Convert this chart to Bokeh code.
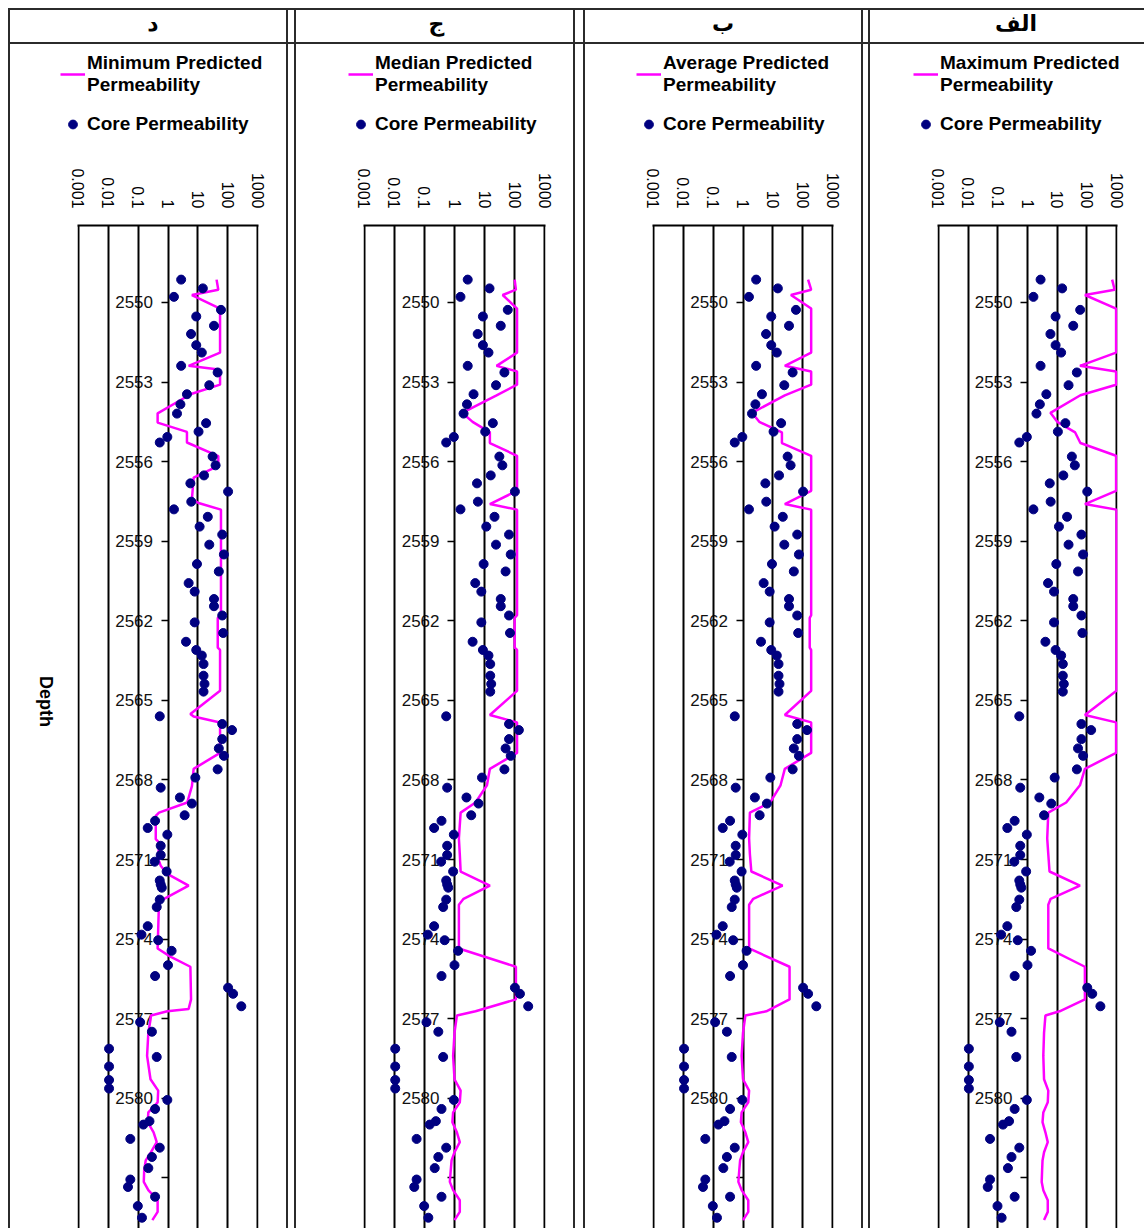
import math
from bokeh.plotting import figure
from bokeh.models import (Range1d, LinearAxis, FixedTicker, Legend, LegendItem, Div)
from bokeh.layouts import row, column
from bokeh.embed import file_html
from bokeh.resources import INLINE

# ---------------- data ----------------
PANEL_TITLES = ["د", "ج", "ب", "الف"]
SERIES_NAMES = ["Minimum Predicted\nPermeability", "Median Predicted\nPermeability",
                "Average Predicted\nPermeability", "Maximum Predicted\nPermeability"]
CORE_LABEL = "Core Permeability"
AXIS_TITLE = "Depth"
X_TICKS = [0.001, 0.01, 0.1, 1, 10, 100, 1000]
X_TICK_LABELS = ["0.001", "0.01", "0.1", "1", "10", "100", "1000"]
DEPTH_TICKS = [2550, 2553, 2556, 2559, 2562, 2565, 2568, 2571, 2574, 2577, 2580, 2583]
DEPTH_TICK_LABELS = ["2550", "2553", "2556", "2559", "2562", "2565", "2568", "2571",
                     "2574", "2577", "2580", ""]

CORE_DEPTH = [2549.14, 2549.47, 2549.79, 2550.28, 2550.53, 2550.88, 2551.19, 2551.61, 2551.89,
              2552.39, 2552.64, 2553.12, 2553.46, 2553.84, 2554.19, 2554.55, 2554.87, 2555.07,
              2555.28, 2555.81, 2556.14, 2556.52, 2556.82, 2557.13, 2557.51, 2557.80, 2558.08,
              2558.45, 2558.75, 2559.13, 2559.50, 2559.86, 2560.14, 2560.58, 2560.90, 2561.18,
              2561.45, 2561.80, 2562.06, 2562.46, 2562.79, 2563.10, 2563.31, 2563.63, 2564.07,
              2564.38, 2564.67, 2565.60, 2565.89, 2566.12, 2566.46, 2566.81, 2567.09, 2567.60,
              2567.91, 2568.29, 2568.66, 2568.89, 2569.33, 2569.54, 2569.81, 2570.06, 2570.48,
              2570.83, 2571.08, 2571.45, 2571.79, 2571.94, 2572.06, 2572.51, 2572.79, 2573.51,
              2573.83, 2574.04, 2574.44, 2574.98, 2575.39, 2575.83, 2576.06, 2576.53, 2577.13,
              2577.49, 2578.13, 2578.44, 2578.80, 2579.31, 2579.63, 2580.06, 2580.40, 2580.86,
              2580.99, 2581.53, 2581.86, 2582.21, 2582.63, 2583.06, 2583.34, 2583.71, 2584.06,
              2584.50]
CORE_PERM = [2.75, 14.6, 1.58, 59, 8.8, 34.5, 5.9, 8.8, 13.5,
             2.75, 45.6, 24, 4.3, 2.6, 2.0, 18.8, 10.5, 0.95,
             0.53, 31, 39, 16, 5.6, 102, 6.0, 1.58, 21.4,
             11.4, 65, 24, 74, 9.3, 50, 4.9, 7.8, 34.5,
             34.5, 65, 7.8, 70, 4.0, 8.8, 13.5, 15.4, 15.4,
             16.6, 15.4, 0.53, 65, 138, 65, 50, 74, 45.7,
             8.2, 0.57, 2.5, 6.3, 3.6, 0.37, 0.21, 0.95, 0.57,
             0.57, 0.36, 0.9, 0.53, 0.57, 0.62, 0.53, 0.42, 0.21,
             0.13, 0.47, 1.32, 1.0, 0.37, 102, 150, 282, 0.117,
             0.29, 0.0107, 0.42, 0.0107, 0.0107, 0.0107, 0.95, 0.37, 0.24,
             0.15, 0.055, 0.53, 0.29, 0.22, 0.055, 0.046, 0.37, 0.098,
             0.135]

MIN_DEPTH = [2549.14, 2549.52, 2549.72, 2550.23, 2551.89, 2552.39, 2552.52, 2552.70, 2553.10,
             2553.46, 2553.50, 2554.18, 2554.53, 2554.88, 2555.28, 2555.79, 2556.16, 2556.60,
             2557.41, 2557.56, 2557.81, 2561.79, 2561.89, 2563.01, 2563.10, 2564.64, 2565.51,
             2565.61, 2565.83, 2566.98, 2567.58, 2568.23, 2568.85, 2569.23, 2569.35, 2570.23,
             2570.35, 2570.79, 2570.91, 2571.23, 2571.54, 2571.98, 2572.48, 2572.60, 2574.35,
             2574.66, 2575.04, 2576.27, 2576.63, 2576.72, 2576.88, 2577.03, 2577.53, 2578.40,
             2579.28, 2579.71, 2580.15, 2580.53, 2580.90, 2581.28, 2581.65, 2582.03, 2582.34,
             2582.71, 2583.15, 2583.46, 2583.84, 2584.28, 2584.59]
MIN_PERM = [42, 48, 6.3, 55, 55, 4.9, 42, 55, 55,
            5.6, 5.0, 0.45, 0.45, 4.3, 4.3, 48, 48, 7.2,
            6.3, 10.5, 59, 59, 46, 46, 55, 55, 5.6,
            7.2, 55, 55, 7.2, 6.3, 4.4, 0.5, 0.39, 0.39,
            0.5, 0.48, 0.45, 0.57, 0.95, 4.9, 0.74, 0.5, 0.45,
            1.2, 5.6, 5.9, 4.9, 0.95, 0.27, 0.26, 0.22, 0.2,
            0.26, 0.47, 0.45, 0.22, 0.21, 0.33, 0.42, 0.27, 0.18,
            0.16, 0.155, 0.22, 0.45, 0.45, 0.3]

MED_DEPTH = [2549.14, 2549.52, 2549.72, 2550.23, 2551.89, 2552.39, 2552.60, 2553.10, 2553.50,
             2554.16, 2554.50, 2554.90, 2555.30, 2555.78, 2557.10, 2557.60, 2557.81, 2561.79,
             2561.89, 2563.01, 2563.10, 2564.64, 2565.55, 2565.83, 2566.98, 2567.58, 2568.20,
             2568.85, 2569.23, 2570.20, 2570.80, 2571.45, 2571.98, 2572.48, 2572.70, 2574.35,
             2575.04, 2576.27, 2576.72, 2576.88, 2577.53, 2578.40, 2579.28, 2579.71, 2580.15,
             2580.53, 2580.90, 2581.28, 2581.65, 2582.03, 2582.34, 2582.71, 2583.15, 2583.46,
             2583.84, 2584.28, 2584.59]
MED_PERM = [100, 110, 40, 120, 120, 25, 120, 120, 25,
            1.8, 4, 15, 15, 120, 120, 15, 120, 120,
            100, 100, 120, 120, 15, 120, 120, 15, 12,
            5, 1.6, 1.4, 1.5, 1.6, 15, 2.0, 1.4, 1.4,
            110, 110, 5, 1.2, 1.0, 0.9, 1.0, 1.6, 1.5,
            0.9, 0.85, 1.2, 1.5, 1.0, 0.8, 0.75, 0.7, 0.9,
            1.5, 1.5, 1.0]

AVG_DEPTH = [2549.14, 2549.52, 2549.72, 2550.23, 2551.89, 2552.39, 2552.60, 2553.10,
             2553.50, 2554.16, 2554.50, 2554.90, 2555.30, 2555.78, 2557.10, 2557.60, 2557.81,
             2561.79, 2561.89, 2563.01, 2563.10, 2564.64, 2565.55, 2565.83, 2566.98, 2567.58,
             2568.20, 2568.85, 2569.23, 2570.20, 2570.80, 2571.45, 2571.98, 2572.48, 2572.70,
             2574.35, 2575.04, 2576.27, 2576.72, 2576.88, 2577.53, 2578.40, 2579.28, 2579.71,
             2580.15, 2580.53, 2580.90, 2581.28, 2581.65, 2582.03, 2582.34, 2582.71, 2583.15,
             2583.46, 2583.84, 2584.28, 2584.59]
AVG_PERM = [150, 190, 40, 190, 190, 25, 190, 190, 25,
            2.0, 3.5, 20, 20, 190, 190, 25, 190, 190,
            170, 170, 190, 190, 25, 190, 190, 25, 18,
            8, 1.7, 1.6, 1.7, 1.9, 21, 2.2, 1.6, 1.6,
            36, 36, 6, 1.2, 1.0, 0.9, 1.0, 1.6, 1.5,
            0.9, 0.85, 1.2, 1.5, 1.0, 0.8, 0.75, 0.7, 0.9,
            1.5, 1.5, 1.0]

MAX_DEPTH = [2549.14, 2549.52, 2549.72, 2550.23, 2551.89, 2552.39, 2552.60, 2553.10, 2553.50,
             2554.16, 2554.50, 2554.90, 2555.30, 2555.78, 2557.10, 2557.60, 2557.81, 2561.79,
             2561.89, 2563.01, 2563.10, 2564.64, 2565.55, 2565.83, 2566.98, 2567.58, 2568.20,
             2568.85, 2569.23, 2570.20, 2570.80, 2571.45, 2571.98, 2572.48, 2572.70, 2574.35,
             2575.04, 2576.27, 2576.72, 2576.88, 2577.53, 2578.40, 2579.28, 2579.71, 2580.15,
             2580.53, 2580.90, 2581.28, 2581.65, 2582.03, 2582.34, 2582.71, 2583.15, 2583.46,
             2583.84, 2584.28, 2584.59]
MAX_PERM = [700, 850, 85, 950, 950, 58, 950, 950, 60,
            5.9, 10, 40, 60, 950, 950, 85, 980, 980,
            980, 980, 980, 980, 85, 950, 950, 85, 58,
            20, 5, 4.6, 5, 5.5, 58, 6, 5, 5,
            85, 85, 12, 4, 3.6, 3.4, 3.6, 5, 4.8,
            3.4, 3.2, 4, 4.8, 3.6, 3.2, 3.1, 3.0, 3.4,
            4.8, 4.8, 3.6]

PRED = [(MIN_DEPTH, MIN_PERM), (MED_DEPTH, MED_PERM), (AVG_DEPTH, AVG_PERM), (MAX_DEPTH, MAX_PERM)]

# ---------------- layout constants ----------------
PAGE_PAD = 8
PANEL_W = [276, 277, 276, 274]
FRAME_W = [181, 182, 181, 180]
GAPS = [6, 8, 5]
LEG_SHIFT = [42, 44, 43, 35]
HEAD_INDENT = [10, 4, 0, 18]
LEG_H = 120
LEFT = 67
TOP = 61
FIG_H = 1064
FRAME_H = FIG_H - TOP
PX_PER_M = 26.53
DEPTH_TOP = 2547.1
DEPTH_BOTTOM = DEPTH_TOP + FRAME_H / PX_PER_M
X_PAD = 1.06
HEAD_H = 32
LINE = "#2b2b2b"
FULL_H = 2 + HEAD_H + 2 + LEG_H + FIG_H
MAGENTA = "#FF00FF"
NAVY = "#000080"


def block(w, h, color=None):
    st = {"background-color": color} if color else {}
    return Div(text="", width=w, height=h, margin=0, styles=st)


def make_fig(i):
    depth, perm = PRED[i]
    p = figure(width=PANEL_W[i], height=FIG_H, x_axis_type="log",
               x_range=Range1d(X_TICKS[0] / X_PAD, X_TICKS[-1] * X_PAD),
               y_range=Range1d(DEPTH_BOTTOM, DEPTH_TOP),
               x_axis_location="above", y_axis_location=None,
               toolbar_location=None, output_backend="svg",
               min_border_left=LEFT, min_border_right=PANEL_W[i] - LEFT - FRAME_W[i],
               min_border_top=TOP, min_border_bottom=0,
               outline_line_color=None, background_fill_color="white",
               border_fill_color="white", margin=0)
    xa = p.xaxis[0]
    xa.ticker = FixedTicker(ticks=X_TICKS)
    xa.major_label_overrides = dict(zip(X_TICKS, X_TICK_LABELS))
    xa.major_label_orientation = -math.pi / 2
    xa.major_tick_out = 0
    xa.major_tick_in = 0
    xa.minor_tick_out = 0
    xa.minor_tick_in = 0
    xa.axis_line_width = 2
    xa.axis_line_color = "#000000"
    xa.major_label_standoff = 17
    xa.major_label_text_font = "Liberation Sans"
    xa.major_label_text_font_size = "16px"
    xa.major_label_text_color = "#000000"

    p.xgrid.ticker = FixedTicker(ticks=X_TICKS)
    p.xgrid.grid_line_color = "#000000"
    p.xgrid.grid_line_width = 2
    p.ygrid.visible = False

    ya = LinearAxis(fixed_location=1, ticker=FixedTicker(ticks=DEPTH_TICKS),
                    major_label_overrides=dict(zip(DEPTH_TICKS, DEPTH_TICK_LABELS)),
                    axis_line_color=None, major_tick_out=7, major_tick_in=0,
                    minor_tick_out=0, minor_tick_in=0, major_tick_line_width=1.5,
                    major_tick_line_color="#000000",
                    major_label_standoff=8, major_label_text_font="Liberation Sans",
                    major_label_text_font_size="17px", major_label_text_color="#111111",
                    level="underlay")
    p.add_layout(ya, "left")

    if i == 0:
        da = LinearAxis(ticker=FixedTicker(ticks=[]), axis_line_color=None,
                        major_tick_out=0, major_tick_in=0, minor_tick_out=0,
                        major_label_text_font_size="0px",
                        axis_label=AXIS_TITLE, axis_label_standoff=32,
                        axis_label_text_font="Liberation Sans",
                        axis_label_text_font_style="bold",
                        axis_label_text_color="#000000",
                        axis_label_text_font_size="18px")
        try:
            da.axis_label_orientation = -math.pi / 2
        except Exception:
            pass
        p.add_layout(da, "left")

    p.line(x=perm, y=depth, line_color=MAGENTA, line_width=2.5)
    p.scatter(x=CORE_PERM, y=CORE_DEPTH, size=9, fill_color=NAVY, line_color=NAVY)
    return p


def make_legend(i):
    depth, perm = PRED[i]
    w = PANEL_W[i] - LEG_SHIFT[i]
    # the legend sits in its own strip; its ranges keep the series out of view
    lf = figure(width=w, height=LEG_H, x_range=Range1d(0, 1), y_range=Range1d(0, 1),
                toolbar_location=None, output_backend="svg",
                x_axis_location=None, y_axis_location=None,
                min_border_left=0, min_border_right=0, min_border_top=0,
                min_border_bottom=0, outline_line_color=None, margin=0)
    lf.grid.visible = False
    ln = lf.line(x=perm, y=depth, line_color=MAGENTA, line_width=2.5)
    pt = lf.scatter(x=CORE_PERM, y=CORE_DEPTH, size=9, fill_color=NAVY, line_color=NAVY)
    legend = Legend(items=[LegendItem(label=SERIES_NAMES[i], renderers=[ln]),
                           LegendItem(label=CORE_LABEL, renderers=[pt])],
                    location="top_left", orientation="vertical",
                    border_line_color=None, background_fill_alpha=0,
                    label_text_font="Liberation Sans", label_text_font_style="bold",
                    label_text_font_size="19px", label_text_line_height=1.45,
                    label_text_color="#000000",
                    glyph_width=25, glyph_height=22,
                    label_standoff=2, spacing=17, padding=0, margin=8)
    lf.add_layout(legend, "center")
    return row(block(LEG_SHIFT[i], LEG_H), lf, spacing=0, margin=0)


def panel(i):
    head = Div(text=PANEL_TITLES[i], width=PANEL_W[i], height=HEAD_H, margin=0,
               styles={"font-family": "DejaVu Sans", "font-weight": "bold",
                       "font-size": "22px", "text-align": "center",
                       "text-indent": f"{HEAD_INDENT[i]}px",
                       "line-height": "28px", "color": "#000"})
    return column(block(PANEL_W[i], 2, LINE), head, block(PANEL_W[i], 2, LINE),
                  make_legend(i), make_fig(i), spacing=0, margin=0)


def gap(w):
    return column(block(w, 2, LINE), block(w, HEAD_H), block(w, 2, LINE),
                  block(w, LEG_H + FIG_H), spacing=0, margin=0)


def vline():
    return block(2, FULL_H, LINE)


table = row(block(PAGE_PAD, 10), vline(), panel(0), vline(), gap(GAPS[0]),
            vline(), panel(1), vline(), gap(GAPS[1]),
            vline(), panel(2), vline(), gap(GAPS[2]),
            vline(), panel(3), spacing=0, margin=0)
layout = column(block(10, PAGE_PAD), table, spacing=0, margin=0)

open("out.html", "w").write(file_html(layout, INLINE, title="Permeability"))
